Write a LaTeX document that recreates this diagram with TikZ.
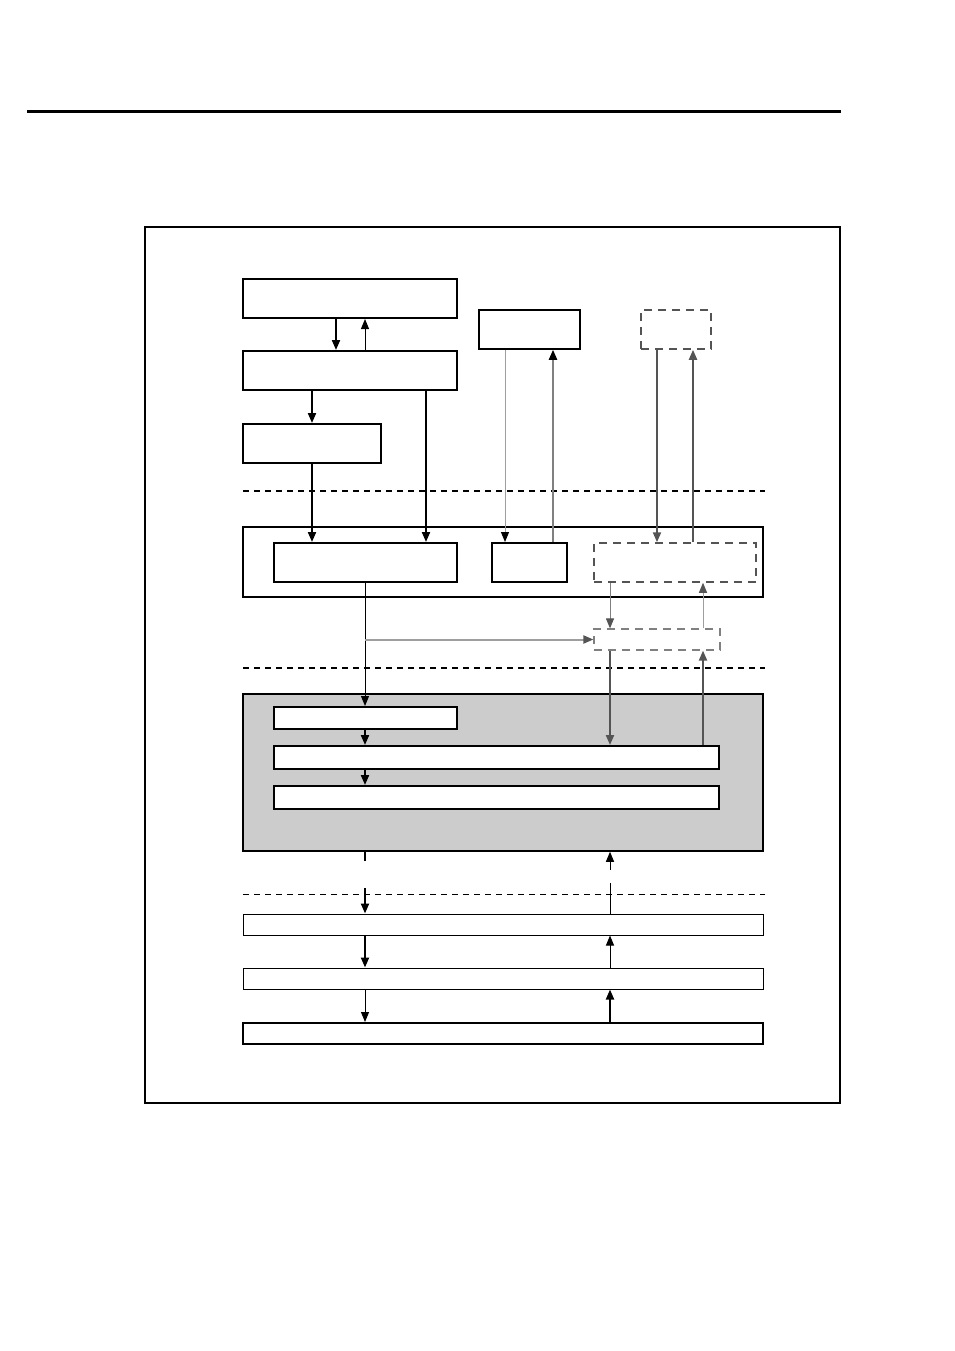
\documentclass[tikz,border=0pt]{standalone}
\usetikzlibrary{arrows.meta}

\definecolor{dgray}{gray}{0.33}
\definecolor{mgray}{gray}{0.5}
\definecolor{lgray}{gray}{0.62}
\definecolor{shade}{gray}{0.8}

\tikzset{
  box/.style={draw, line width=2pt, inner sep=0pt, fill=white},
  flatbox/.style={draw, line width=1pt, inner sep=0pt, fill=white},
  dashbox/.style={draw=dgray, line width=1.5pt, dash pattern=on 8pt off 6pt, inner sep=0pt},
  dn/.style={line width=2pt, -{Triangle[length=10pt,width=8pt]}},
  upa/.style={line width=1pt, -{Triangle[length=10pt,width=8pt]}},
  sep/.style={line width=1.6pt, dash pattern=on 6pt off 5pt},
}

\begin{document}
\begin{tikzpicture}[x=1pt, y=-1pt]
            \useasboundingbox (0,0) rectangle (954,1351);
            \draw[line width=3pt] (27,112) -- (841,112);
            \draw[line width=1.5pt] (145,227) rectangle (840,1103);

            % upper boxes
            \node[box, minimum width=214pt, minimum height=39pt] (A1) at (350,298.5) {};
            \node[box, minimum width=214pt, minimum height=39pt] (A2) at (350,370.5) {};
            \node[box, minimum width=138pt, minimum height=39pt] (A3) at (312,443.5) {};
            \node[box, line width=1.5pt, minimum width=101pt, minimum height=39pt] (B) at (529.5,329.5) {};
            \node[dashbox, minimum width=70pt, minimum height=39pt] (C) at (676,329.5) {};

            % middle block
            \node[box, minimum width=520pt, minimum height=70pt] (D) at (503,562) {};
            \node[box, minimum width=183pt, minimum height=39pt] (D1) at (365.5,562.5) {};
            \node[box, minimum width=75pt, minimum height=39pt] (D2) at (529.5,562.5) {};
            \node[dashbox, minimum width=162pt, minimum height=39pt] (D3) at (675,562.5) {};
            \node[dashbox, draw=mgray, line width=1.2pt, minimum width=126pt, minimum height=21pt] (E) at (657,639.5) {};

            % shaded block
            \node[draw, line width=1.5pt, fill=shade, inner sep=0pt, minimum width=520pt, minimum height=157pt] (F) at (503,772.5) {};
            \node[box, minimum width=183pt, minimum height=22pt] (F1) at (365.5,718) {};
            \node[box, minimum width=445pt, minimum height=23pt] (F2) at (496.5,757.5) {};
            \node[box, minimum width=445pt, minimum height=23pt] (F3) at (496.5,797.5) {};

            % lower boxes
            \node[flatbox, minimum width=520pt, minimum height=21pt] (G1) at (503,924.5) {};
            \node[flatbox, minimum width=520pt, minimum height=21pt] (G2) at (503,978.5) {};
            \node[box, minimum width=520pt, minimum height=21pt] (G3) at (503,1033.5) {};

            % separators
            \draw[sep] (243,491) -- (765,491);
            \draw[sep] (243,668) -- (765,668);
            \draw[line width=0.8pt, dash pattern=on 6pt off 5pt] (243,894) -- (765,894);

            \draw[dn] (A1.south -| 336,0) -- (A2.north -| 336,0);
            \draw[upa] (A2.north -| 365,0) -- (A1.south -| 365,0);
            \draw[dn] (A2.south -| 312,0) -- (A3.north -| 312,0);
            \draw[dn] (A3.south) -- (D1.north -| A3.south);
            \draw[dn] (A2.south -| 426,0) -- (D1.north -| 426,0);
            \draw[line width=1pt, lgray, -{Triangle[length=10pt,width=8pt,black]}] (B.south -| 505,0) -- (D2.north -| 505,0);
            \draw[dn, mgray, -{Triangle[length=10pt,width=8pt,black]}] (D2.north -| 553,0) -- (B.south -| 553,0);
            \draw[dn, dgray] (C.south -| 657,0) -- (D3.north -| 657,0);
            \draw[dn, dgray] (D3.north -| 693,0) -- (C.south -| 693,0);

            \coordinate (split) at (365,639.5);
            \draw[upa] (D1.south -| 365,0) -- (F1.north -| 365,0);
            \draw[dn, lgray, -{Triangle[length=10pt,width=8pt,dgray]}] (split) -- (E.west |- split);
            \draw[upa, mgray, -{Triangle[length=10pt,width=8pt,dgray]}] (D3.south -| 610,0) -- (E.north -| 610,0);
            \draw[upa, lgray, -{Triangle[length=10pt,width=8pt,dgray]}] (E.north -| 703,0) -- (D3.south -| 703,0);
            \draw[dn, dgray] (E.south -| 610,0) -- (F2.north -| 610,0);
            \draw[dn, dgray] (F2.north -| 703,0) -- (E.south -| 703,0);
            \draw[dn] (F1.south -| 365,0) -- (F2.north -| 365,0);
            \draw[dn] (F2.south -| 365,0) -- (F3.north -| 365,0);

            \coordinate (s1) at (365,861);
            \coordinate (s2) at (365,888);
            \coordinate (s3) at (610,870);
            \coordinate (s4) at (610,883);
            \draw[line width=2pt] (F.south -| s1) -- (s1);
            \draw[dn] (s2) -- (G1.north -| s2);
            \draw[upa] (s3) -- (F.south -| s3);
            \draw[line width=1pt] (G1.north -| s4) -- (s4);

            \draw[dn] (G1.south -| 365,0) -- (G2.north -| 365,0);
            \draw[upa] (G2.north -| 610,0) -- (G1.south -| 610,0);
            \draw[upa] (G2.south -| 365,0) -- (G3.north -| 365,0);
            \draw[dn] (G3.north -| 610,0) -- (G2.south -| 610,0);
          \end{tikzpicture}
\end{document}
